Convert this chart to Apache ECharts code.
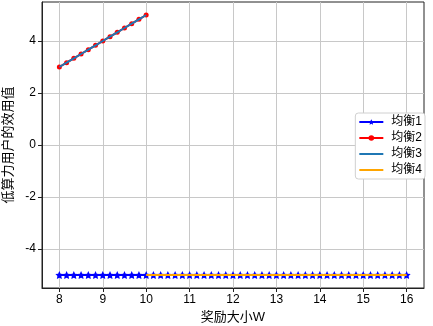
<!DOCTYPE html>
<html>
<head>
<meta charset="utf-8">
<script src="https://cdn.jsdelivr.net/npm/echarts@6/dist/echarts.min.js"></script>
<style>
  html, body { margin: 0; padding: 0; background: #fff; }
  #chart { width: 433px; height: 326px; }
</style>
</head>
<body>
<div id="chart"></div>
<script>
// 横轴：奖励大小W（每 1/6 一个采样点）
const xLow = [8, 8.1667, 8.3333, 8.5, 8.6667, 8.8333, 9, 9.1667, 9.3333, 9.5, 9.6667, 9.8333, 10]
const xHigh = [10, 10.1667, 10.3333, 10.5, 10.6667, 10.8333, 11, 11.1667, 11.3333, 11.5, 11.6667, 11.8333,
  12, 12.1667, 12.3333, 12.5, 12.6667, 12.8333, 13, 13.1667, 13.3333, 13.5, 13.6667, 13.8333,
  14, 14.1667, 14.3333, 14.5, 14.6667, 14.8333, 15, 15.1667, 15.3333, 15.5, 15.6667, 15.8333, 16]
// 各均衡下低算力用户的效用值
const eq1Low = [-5, -5, -5, -5, -5, -5, -5, -5, -5, -5, -5, -5, -5]
const eq1High = [-5, -5, -5, -5, -5, -5, -5, -5, -5, -5, -5, -5, -5, -5, -5, -5, -5, -5, -5,
  -5, -5, -5, -5, -5, -5, -5, -5, -5, -5, -5, -5, -5, -5, -5, -5, -5, -5]
const eq2 = [3, 3.1667, 3.3333, 3.5, 3.6667, 3.8333, 4, 4.1667, 4.3333, 4.5, 4.6667, 4.8333, 5]
const eq3 = [3, 3.1667, 3.3333, 3.5, 3.6667, 3.8333, 4, 4.1667, 4.3333, 4.5, 4.6667, 4.8333, 5]
const eq4 = eq1High
const xTicks = [8, 9, 10, 11, 12, 13, 14, 15, 16]
const yTicks = [-4, -2, 0, 2, 4]

const pair = (xs, ys) => xs.map((x, i) => [x, ys[i]])
const eq1X = xLow.concat(xHigh.slice(1))
const eq1Y = eq1Low.concat(eq1High.slice(1))

const star = 'path://M0,-10L2.94,-4.05L9.51,-3.09L4.76,1.55L5.88,8.09L0,5L-5.88,8.09L-4.76,1.55L-9.51,-3.09L-2.94,-4.05Z'
const bar = 'path://M0,0L24,0L24,2L0,2Z'
const fontCn = '"Liberation Sans", "Noto Sans CJK SC", sans-serif'
const splitStyle = { color: '#c8c8c8', width: 1 }

const chart = echarts.init(document.getElementById('chart'))
const option = {
  animation: false,
  textStyle: { fontFamily: fontCn },
  grid: {
    left: 42, right: 9, top: 2, bottom: 38,
    outerBoundsMode: 'none',
    containLabel: false,
    show: true, borderColor: '#222', borderWidth: 1
  },
  legend: {
    orient: 'vertical',
    right: 8,
    top: 113,
    itemWidth: 24,
    itemHeight: 7,
    itemGap: 4,
    padding: [3, 3, 3, 3],
    backgroundColor: '#fff',
    borderColor: '#d0d0d0',
    borderWidth: 1,
    borderRadius: 3,
    textStyle: { fontSize: 12, lineHeight: 12, color: '#000', fontFamily: fontCn, padding: [0, 0, 0, 3] },
    data: ['均衡1', '均衡2', { name: '均衡3', icon: bar }, { name: '均衡4', icon: bar }]
  },
  xAxis: {
    type: 'value',
    min: 7.6,
    max: 16.4,
    name: '奖励大小W',
    nameLocation: 'middle',
    nameGap: 23,
    nameTextStyle: { fontSize: 13, color: '#000' },
    axisLine: { show: true, onZero: false, lineStyle: { color: '#222' } },
    axisTick: { show: true, customValues: xTicks, length: 4, lineStyle: { color: '#222' } },
    axisLabel: { customValues: xTicks, fontSize: 12, color: '#000', margin: 6 },
    splitLine: { show: false }
  },
  yAxis: {
    type: 'value',
    min: -5.5,
    max: 5.5,
    name: '低算力用户的效用值',
    nameLocation: 'middle',
    nameRotate: 90,
    nameGap: 22,
    nameTextStyle: { fontSize: 13, color: '#000' },
    axisLine: { show: true, onZero: false, lineStyle: { color: '#222' } },
    axisTick: { show: true, customValues: yTicks, length: 4, lineStyle: { color: '#222' } },
    axisLabel: { customValues: yTicks, fontSize: 12, color: '#000', margin: 6 },
    splitLine: { show: false }
  },
  series: [
    {
      name: '均衡1', type: 'line', z: 2,
      data: pair(eq1X, eq1Y),
      symbol: star, symbolSize: 8,
      lineStyle: { color: '#0000ff', width: 2 },
      itemStyle: { color: '#0000ff' },
      // 网格线：在刻度位置画竖线和横线
      markLine: {
        silent: true, symbol: 'none', z: 0,
        label: { show: false },
        lineStyle: Object.assign({ type: 'solid' }, splitStyle),
        data: xTicks.map(v => ({ xAxis: v })).concat(yTicks.map(v => ({ yAxis: v })))
      }
    },
    {
      name: '均衡2', type: 'line', z: 3,
      data: pair(xLow, eq2),
      symbol: 'circle', symbolSize: 5,
      lineStyle: { color: '#ff0000', width: 2 },
      itemStyle: { color: '#ff0000' }
    },
    {
      name: '均衡3', type: 'line', z: 4,
      data: pair(xLow, eq3),
      showSymbol: false, symbol: 'none',
      lineStyle: { color: '#1f77b4', width: 2 },
      itemStyle: { color: '#1f77b4' }
    },
    {
      name: '均衡4', type: 'line', z: 5,
      data: pair(xHigh, eq4),
      showSymbol: false, symbol: 'none',
      lineStyle: { color: '#ffa500', width: 2 },
      itemStyle: { color: '#ffa500' }
    }
  ]
}
chart.setOption(option)
</script>
</body>
</html>
